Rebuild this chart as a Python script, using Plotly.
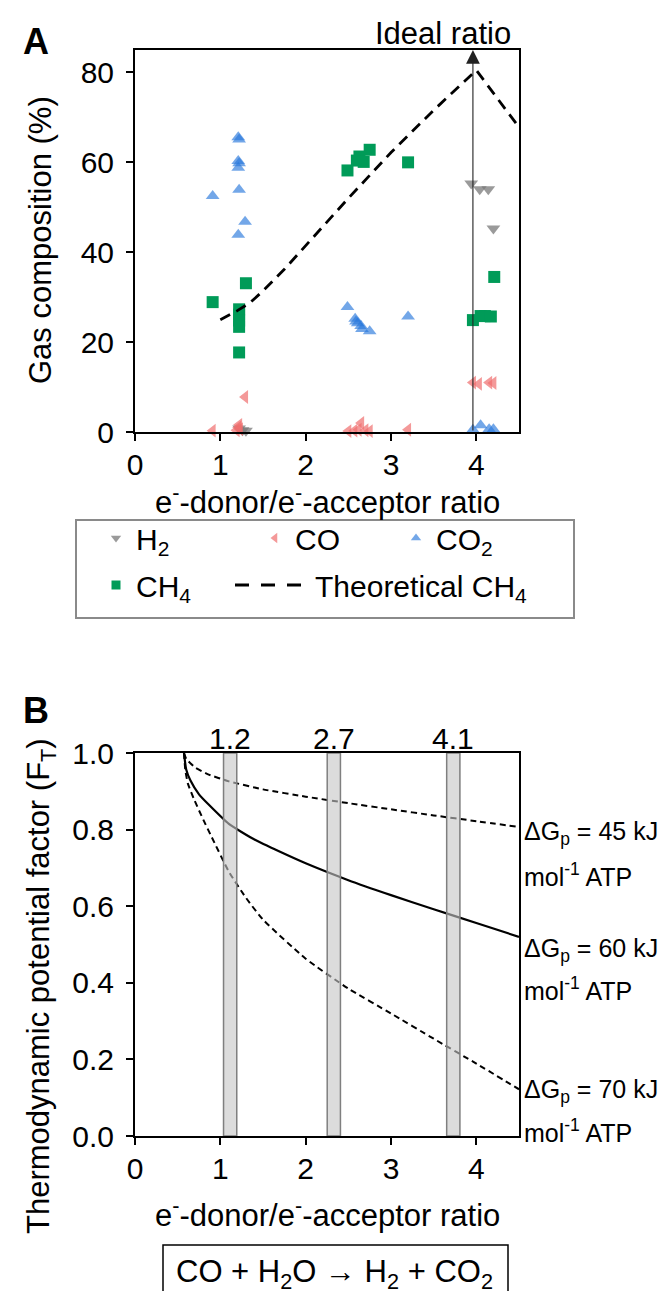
import plotly.graph_objects as go

W, H = 666, 1291
FONT = "Arial, 'Liberation Sans', Helvetica, sans-serif"


def px(x):
    return x / W


def py(y):
    return 1 - y / H


# ---------------- Panel A data ----------------
h2_x = [1.22, 1.26, 1.30, 3.94, 4.04, 4.14, 4.20]
h2_y = [0.8, 0.4, 0.3, 55.3, 54.0, 54.0, 45.3]

co_x = [0.91, 1.19, 1.21, 1.22, 1.23, 1.29, 2.50, 2.57, 2.62, 2.65, 2.70, 2.75, 3.20, 3.96, 4.03, 4.15, 4.20]
co_y = [0.3, 0.4, 1.0, 1.6, 0.6, 7.8, 0.2, 0.3, 0.5, 2.0, 0.4, 0.2, 0.5, 11.0, 10.7, 11.0, 10.9]

co2_x = [0.91, 1.21, 1.22, 1.21, 1.22, 1.21, 1.22, 1.29, 1.21, 2.49, 2.58, 2.59, 2.61, 2.65, 2.66, 2.75, 3.20,
         3.96, 4.05, 4.15, 4.20]
co2_y = [52.5, 65.6, 65.1, 60.3, 59.8, 58.8, 53.9, 46.8, 43.9, 27.8, 25.2, 24.6, 24.2, 23.6, 22.9, 22.4, 25.7,
         0.5, 1.5, 0.6, 0.6]

ch4_x = [0.91, 1.22, 1.22, 1.22, 1.22, 1.22, 1.30, 2.49, 2.60, 2.63, 2.68, 2.75, 3.20, 3.96, 4.05, 4.10, 4.17, 4.21]
ch4_y = [28.9, 27.3, 26.1, 24.8, 23.4, 17.7, 33.1, 58.2, 60.4, 61.3, 60.1, 62.8, 60.0, 24.9, 25.8, 25.8, 25.7, 34.5]

theo_x = [1.0, 1.2, 1.35, 1.5, 1.75, 2.0, 2.5, 3.0, 3.5, 4.0, 4.5]
theo_y = [25.0, 27.0, 28.8, 31.4, 36.2, 41.5, 52.0, 62.2, 71.6, 80.5, 67.8]

ideal_ratio = 3.96

# ---------------- Panel B data ----------------
g45_x = [0.574, 0.6, 0.7, 0.85, 1.1, 1.5, 2.0, 2.5, 3.0, 3.5, 4.0, 4.5]
g45_y = [1.0, 0.985, 0.963, 0.945, 0.926, 0.905, 0.886, 0.869, 0.853, 0.837, 0.822, 0.807]

g60_x = [0.574, 0.6, 0.65, 0.75, 0.86, 1.1, 1.4, 1.7, 2.0, 2.5, 3.0, 3.5, 4.0, 4.5]
g60_y = [1.0, 0.957, 0.928, 0.892, 0.866, 0.815, 0.774, 0.742, 0.712, 0.668, 0.629, 0.592, 0.556, 0.52]

g70_x = [0.574, 0.59, 0.62, 0.7, 0.8, 0.9, 1.1, 1.3, 1.5, 2.0, 2.5, 3.0, 3.5, 4.0, 4.5]
g70_y = [1.0, 0.955, 0.92, 0.875, 0.826, 0.78, 0.69, 0.622, 0.565, 0.463, 0.385, 0.32, 0.254, 0.189, 0.122]

band_centers = [1.115, 2.33, 3.73]
band_labels = ["1.2", "2.7", "4.1"]
band_width = 0.155

gp_labels = ["ΔG<sub>p</sub> = 45 kJ", "ΔG<sub>p</sub> = 60 kJ", "ΔG<sub>p</sub> = 70 kJ"]
unit_label = "mol<sup>-1</sup> ATP"

xticks = [0, 1, 2, 3, 4]
ytickA = [0, 20, 40, 60, 80]
ytickB = [0.0, 0.2, 0.4, 0.6, 0.8, 1.0]

# colours
C_H2 = "rgba(120,120,120,0.75)"
C_CO = "rgba(240,110,110,0.7)"
C_CO2 = "rgba(40,120,220,0.65)"
C_CH4 = "rgb(0,155,88)"

fig = go.Figure()

# ---- Panel A scatter ----
fig.add_trace(go.Scatter(x=h2_x, y=h2_y, mode="markers", showlegend=False, cliponaxis=False,
                         marker=dict(symbol="triangle-down", size=12, color=C_H2, line=dict(width=0))))
fig.add_trace(go.Scatter(x=co_x, y=co_y, mode="markers", showlegend=False, cliponaxis=False,
                         marker=dict(symbol="triangle-left", size=12, color=C_CO, line=dict(width=0))))
fig.add_trace(go.Scatter(x=co2_x, y=co2_y, mode="markers", showlegend=False, cliponaxis=False,
                         marker=dict(symbol="triangle-up", size=12, color=C_CO2, line=dict(width=0))))
fig.add_trace(go.Scatter(x=ch4_x, y=ch4_y, mode="markers", showlegend=False, cliponaxis=False,
                         marker=dict(symbol="square", size=12, color=C_CH4, line=dict(width=0))))
fig.add_trace(go.Scatter(x=theo_x, y=theo_y, mode="lines", showlegend=False,
                         line=dict(color="black", width=2.8, dash="11px,7px")))

# legend-only entries
fig.add_trace(go.Scatter(x=[None], y=[None], mode="markers", name="H<sub>2</sub>", legend="legend",
                         marker=dict(symbol="triangle-down", size=9, color=C_H2)))
fig.add_trace(go.Scatter(x=[None], y=[None], mode="markers", name="CO", legend="legend2",
                         marker=dict(symbol="triangle-left", size=9, color=C_CO)))
fig.add_trace(go.Scatter(x=[None], y=[None], mode="markers", name="CO<sub>2</sub>", legend="legend3",
                         marker=dict(symbol="triangle-up", size=9, color=C_CO2)))
fig.add_trace(go.Scatter(x=[None], y=[None], mode="markers", name="CH<sub>4</sub>", legend="legend4",
                         marker=dict(symbol="square", size=9, color=C_CH4)))
fig.add_trace(go.Scatter(x=[None], y=[None], mode="lines", name="Theoretical CH<sub>4</sub>", legend="legend5",
                         line=dict(color="black", width=3, dash="14px,12px")))

# ---- Panel B curves ----
fig.add_trace(go.Scatter(x=g45_x, y=g45_y, mode="lines", xaxis="x2", yaxis="y2", showlegend=False,
                         line=dict(color="black", width=2, dash="6px,4px", shape="spline", smoothing=0.5)))
fig.add_trace(go.Scatter(x=g60_x, y=g60_y, mode="lines", xaxis="x2", yaxis="y2", showlegend=False,
                         line=dict(color="black", width=2.2, shape="spline", smoothing=0.5)))
fig.add_trace(go.Scatter(x=g70_x, y=g70_y, mode="lines", xaxis="x2", yaxis="y2", showlegend=False,
                         line=dict(color="black", width=2, dash="6px,4px", shape="spline", smoothing=0.5)))

axis_common = dict(showline=True, linewidth=2, linecolor="black", mirror=True, ticks="outside",
                   ticklen=7, tickwidth=2, tickcolor="black", showgrid=False, zeroline=False,
                   tickfont=dict(family=FONT, size=30, color="black"), automargin=False)

fig.update_layout(
    width=W, height=H, template="none",
    margin=dict(l=0, r=0, t=0, b=0),
    paper_bgcolor="white", plot_bgcolor="white",
    font=dict(family=FONT, color="black"),
    xaxis=dict(domain=[px(127), px(511)], range=[0, 4.5], tickvals=xticks, anchor="y",
               ticklabelstandoff=-2, **axis_common),
    yaxis=dict(domain=[py(424), py(42)], range=[0, 85], tickvals=ytickA, anchor="x",
               ticklabelstandoff=6, **axis_common),
    xaxis2=dict(domain=[px(127), px(511)], range=[0, 4.5], tickvals=xticks, anchor="y2",
                ticklabelstandoff=-2, **axis_common),
    yaxis2=dict(domain=[py(1128), py(745)], range=[0, 1.0], tickvals=ytickB, tickformat=".1f", anchor="x2",
                ticklabelstandoff=6, **axis_common),
)

leg_common = dict(orientation="h", xanchor="left", yanchor="middle", bgcolor="rgba(0,0,0,0)", borderwidth=0,
                  font=dict(family=FONT, size=30, color="black"))
fig.update_layout(
    legend=dict(x=px(88), y=py(530), **leg_common),
    legend2=dict(x=px(247), y=py(530), **leg_common),
    legend3=dict(x=px(388), y=py(530), **leg_common),
    legend4=dict(x=px(88), y=py(577), **leg_common),
    legend5=dict(x=px(222), y=py(577), itemwidth=75, **leg_common),
)

shapes = []
# legend box
shapes.append(dict(type="rect", xref="paper", yref="paper", x0=px(68), x1=px(566), y0=py(610), y1=py(512),
                   line=dict(color="#8a8a8a", width=2), fillcolor="rgba(0,0,0,0)", layer="below"))
# equation box (bottom edge falls outside the picture)
shapes.append(dict(type="rect", xref="paper", yref="paper", x0=px(155), x1=px(500), y0=py(1310), y1=py(1237),
                   line=dict(color="black", width=1.5), fillcolor="rgba(0,0,0,0)"))
# bands in panel B
for c in band_centers:
    shapes.append(dict(type="rect", xref="x2", yref="y2", x0=c - band_width / 2, x1=c + band_width / 2,
                       y0=0, y1=1, fillcolor="rgba(197,197,197,0.61)", line=dict(color="#7f7f7f", width=1.5),
                       layer="above"))
fig.update_layout(shapes=shapes)

ann = []
# panel letters
ann.append(dict(text="<b>A</b>", x=px(28), y=py(33), xref="paper", yref="paper", showarrow=False,
                font=dict(size=36, family=FONT), xanchor="center", yanchor="middle"))
ann.append(dict(text="<b>B</b>", x=px(28), y=py(702), xref="paper", yref="paper", showarrow=False,
                font=dict(size=36, family=FONT), xanchor="center", yanchor="middle"))
# ideal ratio arrow + label
ann.append(dict(x=ideal_ratio, y=85, ax=ideal_ratio, ay=0, xref="x", yref="y", axref="x", ayref="y",
                text="", showarrow=True, arrowhead=2, arrowsize=2.5, arrowwidth=1.1, arrowcolor="#222"))
ann.append(dict(text="Ideal ratio", x=px(435), y=py(26), xref="paper", yref="paper", showarrow=False,
                font=dict(size=31, family=FONT), xanchor="center", yanchor="middle"))
# axis titles
ann.append(dict(text="Gas composition (%)", x=px(33), y=py(232), xref="paper", yref="paper", showarrow=False,
                textangle=-90, font=dict(size=31, family=FONT), xanchor="center", yanchor="middle"))
ann.append(dict(text="e<sup>-</sup>-donor/e<sup>-</sup>-acceptor ratio", x=px(319), y=py(492), xref="paper",
                yref="paper", showarrow=False, font=dict(size=31, family=FONT), xanchor="center", yanchor="middle"))
ann.append(dict(text="Thermodynamic potential factor (F<sub>T</sub>)", x=px(33), y=py(978), xref="paper",
                yref="paper", showarrow=False, textangle=-90, font=dict(size=31, family=FONT),
                xanchor="center", yanchor="middle"))
ann.append(dict(text="e<sup>-</sup>-donor/e<sup>-</sup>-acceptor ratio", x=px(319), y=py(1205), xref="paper",
                yref="paper", showarrow=False, font=dict(size=31, family=FONT), xanchor="center", yanchor="middle"))
# band labels
for c, lab in zip(band_centers, band_labels):
    ann.append(dict(text=lab, x=c, y=1.0, xref="x2", yref="y2", showarrow=False, yanchor="bottom",
                    yshift=-4, font=dict(size=30, family=FONT)))
# Gibbs labels
gp_rows = [(825, 867), (942, 981), (1083, 1123)]
for lab, (y1, y2) in zip(gp_labels, gp_rows):
    ann.append(dict(text=lab, x=px(514), y=py(y1), xref="paper", yref="paper", showarrow=False,
                    xanchor="left", yanchor="middle", font=dict(size=25, family=FONT)))
    ann.append(dict(text=unit_label, x=px(514), y=py(y2), xref="paper", yref="paper", showarrow=False,
                    xanchor="left", yanchor="middle", font=dict(size=25, family=FONT)))
# reaction equation
ann.append(dict(text="CO + H<sub>2</sub>O → H<sub>2</sub> + CO<sub>2</sub>", x=px(326), y=py(1266),
                xref="paper", yref="paper", showarrow=False, xanchor="center", yanchor="middle",
                font=dict(size=31, family=FONT)))
fig.update_layout(annotations=ann)

fig.write_html("out.html")
